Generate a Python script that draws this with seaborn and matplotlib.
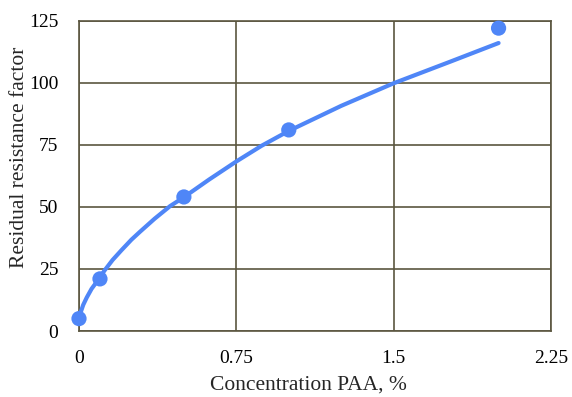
import numpy as np
import pandas as pd
import matplotlib
matplotlib.use("Agg")
import matplotlib.pyplot as plt
import seaborn as sns

# measured points
conc = [0, 0.1, 0.5, 1.0, 2.0]
rrf = [5, 21, 54, 81, 122]

# trend line
trend_x = [0.004, 0.01, 0.02, 0.037, 0.06, 0.095, 0.121, 0.16, 0.203, 0.25, 0.291,
           0.36, 0.434, 0.5, 0.62, 0.75, 0.87, 1.0, 1.25, 1.5, 1.77, 2.0]
trend_y = [5.3, 8.0, 10.5, 13.5, 17.0, 21.0, 24.3, 28.6, 32.6, 36.8, 40.0,
           45.2, 50.3, 53.9, 61.0, 68.3, 74.6, 80.6, 90.7, 99.8, 108.5, 116.0]

xticks = [0, 0.75, 1.5, 2.25]
yticks = [0, 25, 50, 75, 100, 125]

sns.set_style("white")
plt.rcParams['font.family'] = ['Liberation Serif', 'DejaVu Serif']

blue = "#4F86F7"
grid = "#5B5640"

points = pd.DataFrame({"x": conc, "y": rrf})
trend = pd.DataFrame({"x": trend_x, "y": trend_y})

fig = plt.figure(figsize=(5.72, 3.97), dpi=100)
ax = fig.add_axes([0.1381, 0.1662, 0.8252, 0.7817])

sns.lineplot(x="x", y="y", data=trend, sort=False, estimator=None,
             color=blue, linewidth=3, ax=ax, zorder=3)
sns.scatterplot(x="x", y="y", data=points, color=blue, s=120,
                edgecolor="none", ax=ax, zorder=4, clip_on=False)

ax.set_xlim(0, 2.25)
ax.set_ylim(0, 125)
ax.set_xticks(xticks)
ax.set_xticklabels(["0", "0.75", "1.5", "2.25"])
ax.set_yticks(yticks)
ax.grid(True, color=grid, linewidth=1.2)
ax.set_axisbelow(True)
for s in ax.spines.values():
    s.set_visible(True)
    s.set_color(grid)
    s.set_linewidth(1.2)
ax.tick_params(length=0, labelsize=14, colors="black")
ax.tick_params(axis="x", pad=13.5)
ax.tick_params(axis="y", pad=15)
ax.set_xlabel("Concentration PAA, %", fontsize=15.5)
ax.set_ylabel("Residual resistance factor", fontsize=15.5)
ax.xaxis.set_label_coords(0.486, -0.145)
ax.yaxis.set_label_coords(-0.106, 0.561)

fig.savefig("out.png", dpi=100)
